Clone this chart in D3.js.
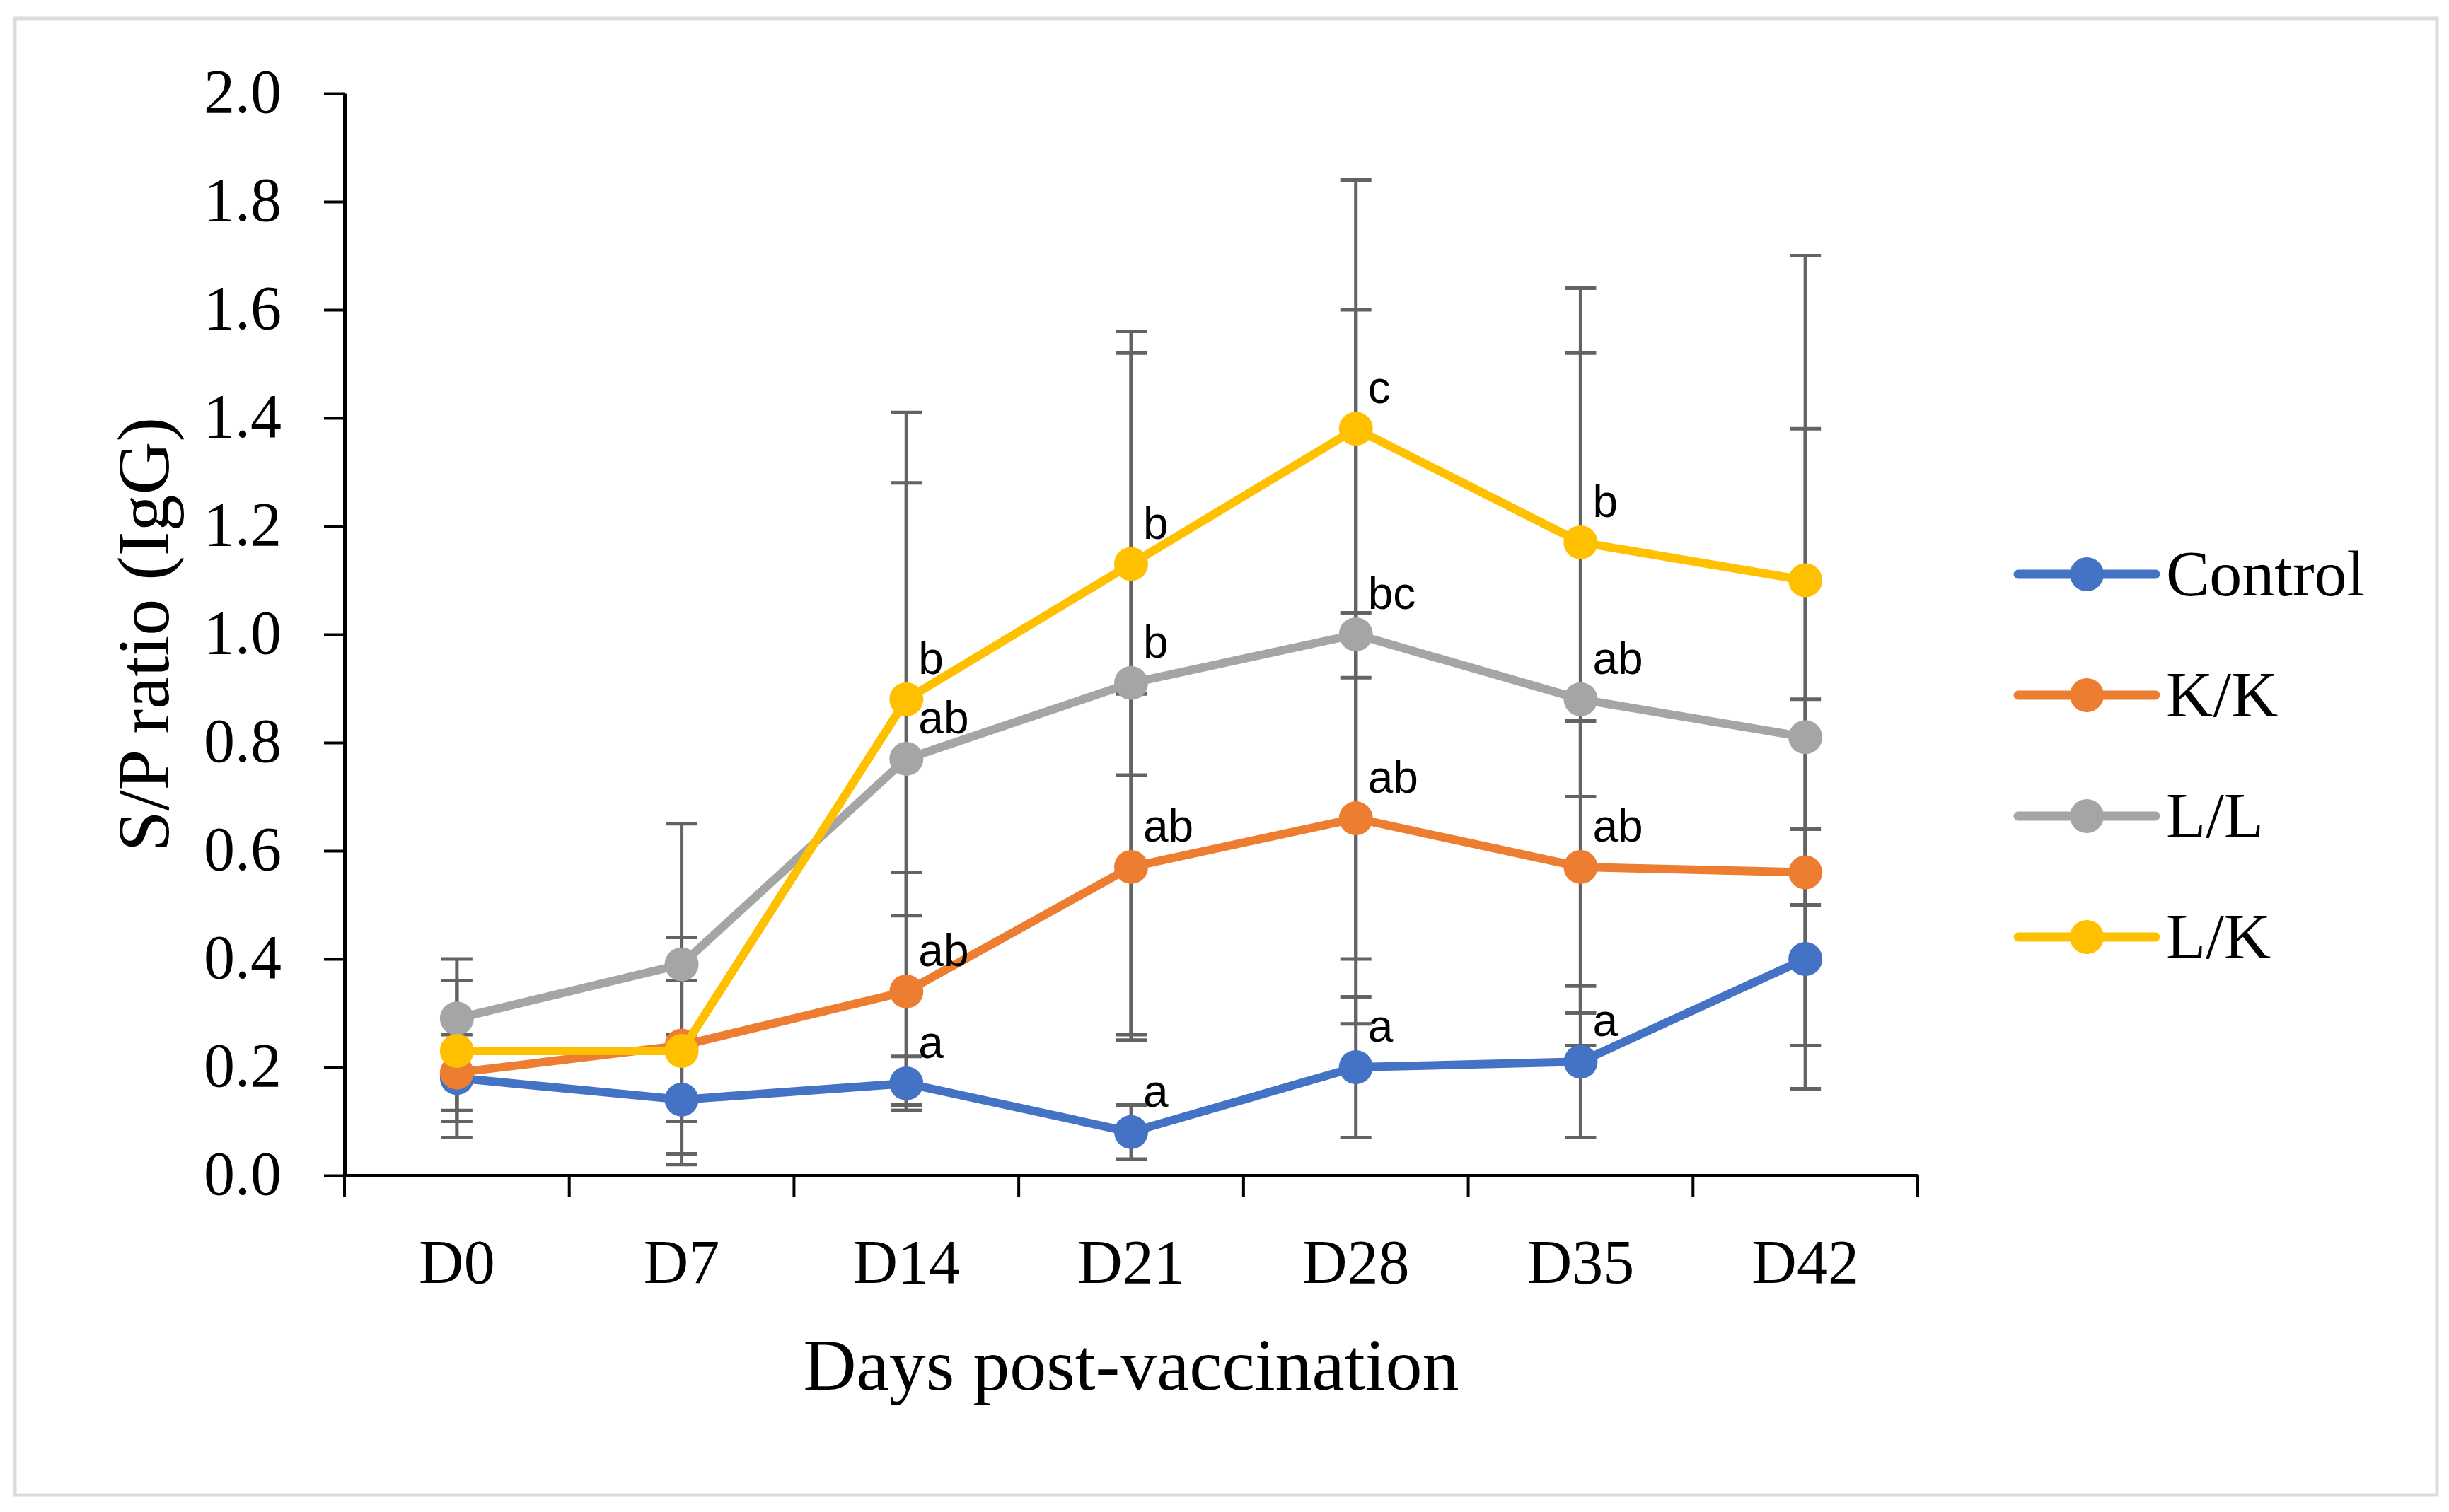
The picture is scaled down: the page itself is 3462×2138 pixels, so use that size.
<!DOCTYPE html>
<html>
<head>
<meta charset="utf-8">
<script src="https://cdn.jsdelivr.net/npm/d3@7"></script>
<style>
  html, body { margin: 0; padding: 0; background: #ffffff; }
  svg { display: block; }
</style>
</head>
<body>
<svg id="chart" width="3462" height="2138" viewBox="0 0 3462 2138"></svg>
<script>
// ---------------- data ----------------
const days = ["D0", "D7", "D14", "D21", "D28", "D35", "D42"];
const yTicks = [0, 0.2, 0.4, 0.6, 0.8, 1.0, 1.2, 1.4, 1.6, 1.8, 2.0];
const seriesNames = ["Control", "K/K", "L/L", "L/K"];
const seriesColors = ["#4472C4", "#ED7D31", "#A5A5A5", "#FFC000"];

const controlMean = [0.18, 0.14, 0.17, 0.08, 0.20, 0.21, 0.40];
const controlSD   = [0.11, 0.12, 0.05, 0.05, 0.13, 0.14, 0.24];
const kkMean      = [0.19, 0.24, 0.34, 0.57, 0.66, 0.57, 0.56];
const kkSD        = [0.07, 0.20, 0.22, 0.32, 0.38, 0.27, 0.32];
const llMean      = [0.29, 0.39, 0.77, 0.91, 1.00, 0.88, 0.81];
const llSD        = [0.11, 0.26, 0.64, 0.65, 0.60, 0.64, 0.57];
const lkMean      = [0.23, 0.23, 0.88, 1.13, 1.38, 1.17, 1.10];
const lkSD        = [0.13, 0.13, 0.40, 0.39, 0.46, 0.47, 0.60];

const controlLetters = [null, null, "a", "a", "a", "a", null];
const kkLetters      = [null, null, "ab", "ab", "ab", "ab", null];
const llLetters      = [null, null, "ab", "b", "bc", "ab", null];
const lkLetters      = [null, null, "b", "b", "c", "b", null];

const yTitle = "S/P ratio (IgG)";
const xTitle = "Days post-vaccination";

// ---------------- build ----------------
const means = [controlMean, kkMean, llMean, lkMean];
const sds = [controlSD, kkSD, llSD, lkSD];
const letters = [controlLetters, kkLetters, llLetters, lkLetters];
const series = seriesNames.map((name, i) => ({
  name, color: seriesColors[i],
  values: days.map((d, j) => ({ day: d, v: means[i][j], sd: sds[i][j], letter: letters[i][j] }))
}));

const serif = "'Palatino Linotype', 'Book Antiqua', Palatino, 'Liberation Serif', serif";
const sans = "Arial, 'Liberation Sans', Helvetica, sans-serif";

const svg = d3.select("#chart");
svg.append("rect").attr("width", 3462).attr("height", 2138).attr("fill", "#fff");
// outer frame
svg.append("rect")
  .attr("x", 21).attr("y", 26).attr("width", 3424).attr("height", 2088)
  .attr("fill", "none").attr("stroke", "#dcdcdc").attr("stroke-width", 5);

const x = d3.scaleBand().domain(days).range([487, 2711]);
const y = d3.scaleLinear().domain([0, 2]).range([1662, 132]);
const cx = d => x(d) + x.bandwidth() / 2;

// y axis
const yAxis = svg.append("g").attr("transform", `translate(${x.range()[0]},0)`)
  .call(d3.axisLeft(y).tickValues(yTicks).tickFormat(d3.format(".1f")).tickSize(29).tickSizeOuter(0).tickPadding(60));
yAxis.select(".domain").attr("stroke", "#000").attr("stroke-width", 5);
yAxis.selectAll(".tick line").attr("stroke", "#000").attr("stroke-width", 4);
yAxis.selectAll(".tick text").attr("font-family", serif).attr("font-size", 88).attr("fill", "#000").attr("dy", "0.3em");

// x axis (labels at band centres, tick marks at band edges)
const xAxis = svg.append("g").attr("transform", `translate(0,${y(0)})`)
  .call(d3.axisBottom(x).tickSize(0).tickSizeOuter(0).tickPadding(90));
xAxis.select(".domain").attr("stroke", "#000").attr("stroke-width", 5);
xAxis.selectAll(".tick text").attr("font-family", serif).attr("font-size", 88).attr("fill", "#000");
const edges = days.map(d => x(d)).concat([x.range()[1]]);
xAxis.selectAll(".edge").data(edges).enter().append("line")
  .attr("x1", d => d).attr("x2", d => d).attr("y1", 0).attr("y2", 30)
  .attr("stroke", "#000").attr("stroke-width", 4);

// axis titles
svg.append("text")
  .attr("transform", `translate(238,${(y(0) + y(2)) / 2}) rotate(-90)`)
  .attr("text-anchor", "middle").attr("font-family", serif).attr("font-size", 104)
  .attr("fill", "#000").text(yTitle);
svg.append("text")
  .attr("x", (x.range()[0] + x.range()[1]) / 2).attr("y", 1965)
  .attr("text-anchor", "middle").attr("font-family", serif).attr("font-size", 104)
  .attr("fill", "#000").text(xTitle);

// error bars
const errG = svg.append("g");
series.forEach(s => {
  s.values.forEach(p => {
    const g = errG.append("g").attr("stroke", "#636363").attr("stroke-width", 5);
    const X = cx(p.day);
    g.append("line").attr("x1", X).attr("x2", X).attr("y1", y(p.v + p.sd)).attr("y2", y(Math.max(0, p.v - p.sd)));
    [p.v + p.sd, p.v - p.sd].forEach(e => {
      g.append("line").attr("x1", X - 22).attr("x2", X + 22).attr("y1", y(e)).attr("y2", y(e));
    });
  });
});

// lines and markers
const line = d3.line().x(p => cx(p.day)).y(p => y(p.v));
series.forEach(s => {
  svg.append("path").datum(s.values).attr("d", line)
    .attr("fill", "none").attr("stroke", s.color).attr("stroke-width", 12)
    .attr("stroke-linejoin", "round").attr("stroke-linecap", "round");
  svg.append("g").selectAll("circle").data(s.values).enter().append("circle")
    .attr("cx", p => cx(p.day)).attr("cy", p => y(p.v)).attr("r", 24)
    .attr("fill", s.color);
});

// significance letters
series.forEach(s => {
  svg.append("g").selectAll("text").data(s.values.filter(p => p.letter)).enter().append("text")
    .attr("x", p => cx(p.day) + 17).attr("y", p => y(p.v) - 36)
    .attr("font-family", sans).attr("font-size", 64).attr("fill", "#000")
    .text(p => p.letter);
});

// legend
const legend = svg.append("g");
const rowY = d3.scalePoint().domain(seriesNames).range([812, 1325]);
series.forEach(s => {
  const g = legend.append("g").attr("transform", `translate(0,${rowY(s.name)})`);
  g.append("line").attr("x1", 2853).attr("x2", 3047).attr("y1", 0).attr("y2", 0)
    .attr("stroke", s.color).attr("stroke-width", 13).attr("stroke-linecap", "round");
  g.append("circle").attr("cx", 2950).attr("cy", 0).attr("r", 24).attr("fill", s.color);
  g.append("text").attr("x", 3062).attr("y", 30)
    .attr("font-family", serif).attr("font-size", 92).attr("fill", "#000").text(s.name);
});
</script>
</body>
</html>
